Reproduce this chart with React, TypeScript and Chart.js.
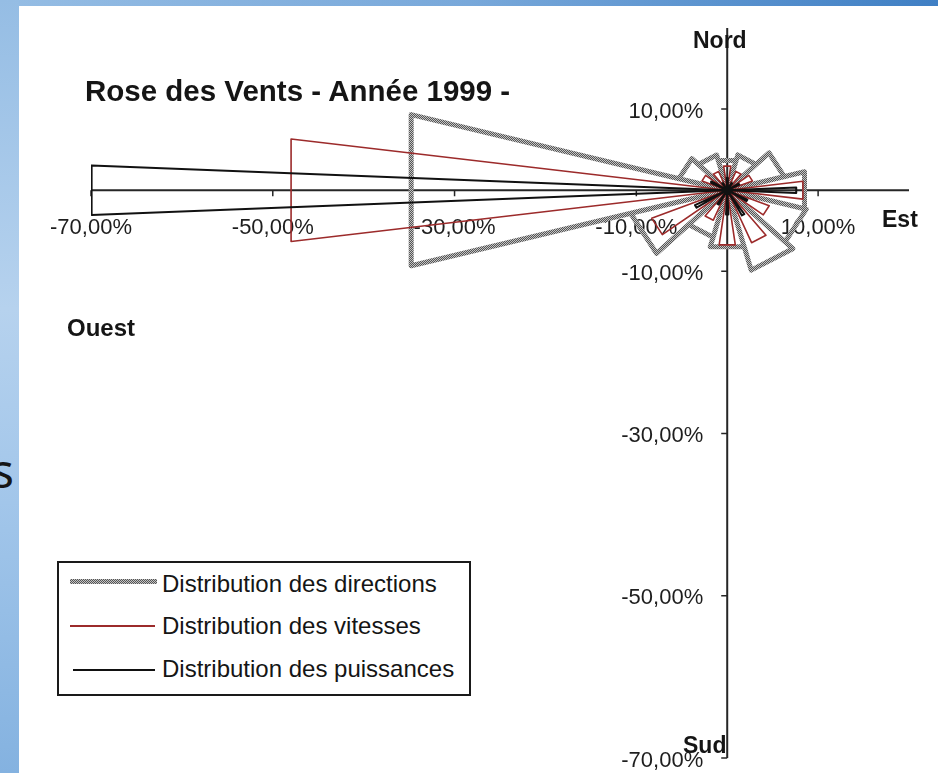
import React, { useEffect, useRef } from 'react';
import { Chart, registerables } from 'chart.js';

Chart.register(...registerables);

// Directions (degrees, 0 = Est, 90 = Nord, 180 = Ouest, 270 = Sud)
const directionAngles = [0, 30, 60, 90, 120, 150, 180, 210, 240, 270, 300, 330];
// Values in %
const directionsPct = [8.8, 6.5, 4.5, 3.8, 4.5, 5.5, 36.0, 11.0, 6.0, 7.2, 10.2, 9.0];
const vitessesPct = [8.4, 3.0, 2.5, 3.0, 2.5, 3.0, 48.4, 9.0, 4.0, 6.8, 7.0, 5.0];
const puissancesPct = [7.6, 1.5, 1.0, 1.5, 1.0, 2.0, 70.0, 4.0, 2.0, 3.0, 3.5, 2.5];

const seriesNames = [
  'Distribution des directions',
  'Distribution des vitesses',
  'Distribution des puissances',
];
const wedgeHalfWidths = [15, 7.5, 2.5];

const xTicks = [-70, -50, -30, -10, 10];
const yTicks = [10, -10, -30, -50, -70];
const axisMin = -70;
const axisMax = 20;

const titleText = 'Rose des Vents - Année 1999 -';

function rosePath(values: number[], half: number) {
  const pts: { x: number; y: number }[] = [{ x: 0, y: 0 }];
  values.forEach((r, i) => {
    const a = directionAngles[i];
    const a1 = ((a - half) * Math.PI) / 180;
    const a2 = ((a + half) * Math.PI) / 180;
    pts.push({ x: r * Math.cos(a1), y: r * Math.sin(a1) });
    pts.push({ x: r * Math.cos(a2), y: r * Math.sin(a2) });
    pts.push({ x: 0, y: 0 });
  });
  return pts;
}

const fmt = (v: number) => v.toFixed(2).replace('.', ',') + '%';

const axesPlugin = {
  id: 'crossAxes',
  beforeDatasetsDraw(chart: any) {
    const { ctx, chartArea: a } = chart;
    const x = chart.scales.x;
    const y = chart.scales.y;
    const ox = x.getPixelForValue(0);
    const oy = y.getPixelForValue(0);
    ctx.save();
    ctx.strokeStyle = '#262626';
    ctx.lineWidth = 2;
    ctx.beginPath();
    ctx.moveTo(a.left, oy);
    ctx.lineTo(a.right, oy);
    ctx.moveTo(ox, a.top);
    ctx.lineTo(ox, a.bottom);
    ctx.stroke();
    ctx.lineWidth = 1.5;
    ctx.beginPath();
    xTicks.forEach((v) => {
      const px = x.getPixelForValue(v);
      ctx.moveTo(px, oy);
      ctx.lineTo(px, oy + 6);
    });
    yTicks.forEach((v) => {
      const py = y.getPixelForValue(v);
      ctx.moveTo(ox, py);
      ctx.lineTo(ox - 6, py);
    });
    ctx.stroke();
    ctx.fillStyle = '#1e1e1e';
    ctx.font = '22px "Liberation Sans", Arial, sans-serif';
    ctx.textBaseline = 'alphabetic';
    ctx.textAlign = 'center';
    xTicks.forEach((v) => ctx.fillText(fmt(v), x.getPixelForValue(v), oy + 43.5));
    ctx.textAlign = 'right';
    yTicks.forEach((v) => ctx.fillText(fmt(v), ox - 24, y.getPixelForValue(v) + 8.5));
    ctx.restore();
  },
};

const FONT = '"Liberation Sans", Arial, Helvetica, sans-serif';

function Txt(props: { x: number; base: number; size: number; bold?: boolean; children: any }) {
  const { x, base, size, bold, children } = props;
  return (
    <div
      style={{
        position: 'absolute',
        left: x,
        top: base - 0.8465 * size,
        fontFamily: FONT,
        fontSize: size,
        lineHeight: `${size}px`,
        fontWeight: bold ? 700 : 400,
        color: '#151515',
        whiteSpace: 'nowrap',
      }}
    >
      {children}
    </div>
  );
}

export default function App() {
  const canvasRef = useRef<HTMLCanvasElement | null>(null);

  useEffect(() => {
    const canvas = canvasRef.current;
    if (!canvas) return;
    const ctx = canvas.getContext('2d')!;
    const pc = document.createElement('canvas');
    pc.width = 2;
    pc.height = 2;
    const pctx = pc.getContext('2d')!;
    pctx.fillStyle = '#c4c4c4';
    pctx.fillRect(0, 0, 2, 2);
    pctx.fillStyle = '#555555';
    pctx.fillRect(0, 0, 1, 1);
    pctx.fillRect(1, 1, 1, 1);
    const grayPattern = ctx.createPattern(pc, 'repeat');

    const chart = new Chart(ctx, {
      type: 'scatter',
      data: {
        datasets: [
          {
            label: seriesNames[0],
            data: rosePath(directionsPct, wedgeHalfWidths[0]),
            showLine: true,
            borderColor: grayPattern as any,
            borderWidth: 5,
            pointRadius: 0,
            fill: false,
            tension: 0,
            borderJoinStyle: 'round',
            order: 3,
          },
          {
            label: seriesNames[1],
            data: rosePath(vitessesPct, wedgeHalfWidths[1]),
            showLine: true,
            borderColor: '#9c2b2b',
            borderWidth: 1.6,
            pointRadius: 0,
            fill: false,
            tension: 0,
            borderJoinStyle: 'round',
            order: 2,
          },
          {
            label: seriesNames[2],
            data: rosePath(puissancesPct, wedgeHalfWidths[2]),
            showLine: true,
            borderColor: '#111111',
            borderWidth: 2,
            pointRadius: 0,
            fill: false,
            tension: 0,
            borderJoinStyle: 'round',
            order: 1,
          },
        ],
      },
      options: {
        responsive: false,
        animation: false,
        devicePixelRatio: 1,
        layout: { padding: { left: 72, right: 29, top: 22, bottom: 15 } },
        scales: {
          x: { type: 'linear', min: axisMin, max: axisMax, display: false },
          y: { type: 'linear', min: axisMin, max: axisMax, display: false },
        },
        plugins: {
          legend: { display: false },
          title: { display: false },
          tooltip: { enabled: false },
        },
      },
      plugins: [axesPlugin],
    });
    return () => chart.destroy();
  }, []);

  return (
    <div
      style={{
        position: 'fixed',
        left: 0,
        top: 0,
        width: 938,
        height: 773,
        overflow: 'hidden',
        background: '#ffffff',
      }}
    >
      <div
        style={{
          position: 'absolute',
          left: 0,
          top: 0,
          width: 938,
          height: 6,
          background: 'linear-gradient(to right, #95bde4 0%, #78a8da 50%, #3f7fc4 100%)',
        }}
      />
      <div
        style={{
          position: 'absolute',
          left: 0,
          top: 0,
          width: 19,
          height: 773,
          background:
            'linear-gradient(to bottom, #95bde4 0%, #b6d2ee 40%, #a2c6ea 65%, #84b2e0 100%)',
        }}
      />
      <div
        style={{
          position: 'absolute',
          left: -9,
          top: 446,
          fontFamily: '"Noto Sans", "Open Sans", sans-serif',
          fontSize: 48,
          lineHeight: '48px',
          color: '#161616',
        }}
      >
        s
      </div>
      <div
        style={{
          position: 'absolute',
          left: 19,
          top: 6,
          width: 919,
          height: 767,
          background: '#ffffff',
        }}
      >
        <canvas ref={canvasRef} width={919} height={767} style={{ display: 'block' }} />
      </div>

      <Txt x={85} base={101} size={29.5} bold>
        {titleText}
      </Txt>
      <Txt x={693} base={48} size={23} bold>
        Nord
      </Txt>
      <Txt x={882} base={227} size={23} bold>
        Est
      </Txt>
      <Txt x={67} base={336} size={24} bold>
        Ouest
      </Txt>
      <Txt x={683} base={753} size={23} bold>
        Sud
      </Txt>

      <div
        style={{
          position: 'absolute',
          left: 57,
          top: 561,
          width: 414,
          height: 135,
          border: '2px solid #1a1a1a',
          boxSizing: 'border-box',
          background: '#ffffff',
        }}
      />
      <div
        style={{
          position: 'absolute',
          left: 70,
          top: 579,
          width: 87,
          height: 5,
          background: 'repeating-conic-gradient(#555555 0% 25%, #c4c4c4 0% 50%) 0 0 / 2px 2px',
        }}
      />
      <div
        style={{
          position: 'absolute',
          left: 70,
          top: 625,
          width: 85,
          height: 2,
          background: '#9c2b2b',
        }}
      />
      <div
        style={{
          position: 'absolute',
          left: 73,
          top: 669,
          width: 82,
          height: 2,
          background: '#111111',
        }}
      />
      <Txt x={162} base={592} size={24}>
        {seriesNames[0]}
      </Txt>
      <Txt x={162} base={634} size={24}>
        {seriesNames[1]}
      </Txt>
      <Txt x={162} base={677} size={24}>
        {seriesNames[2]}
      </Txt>
    </div>
  );
}
